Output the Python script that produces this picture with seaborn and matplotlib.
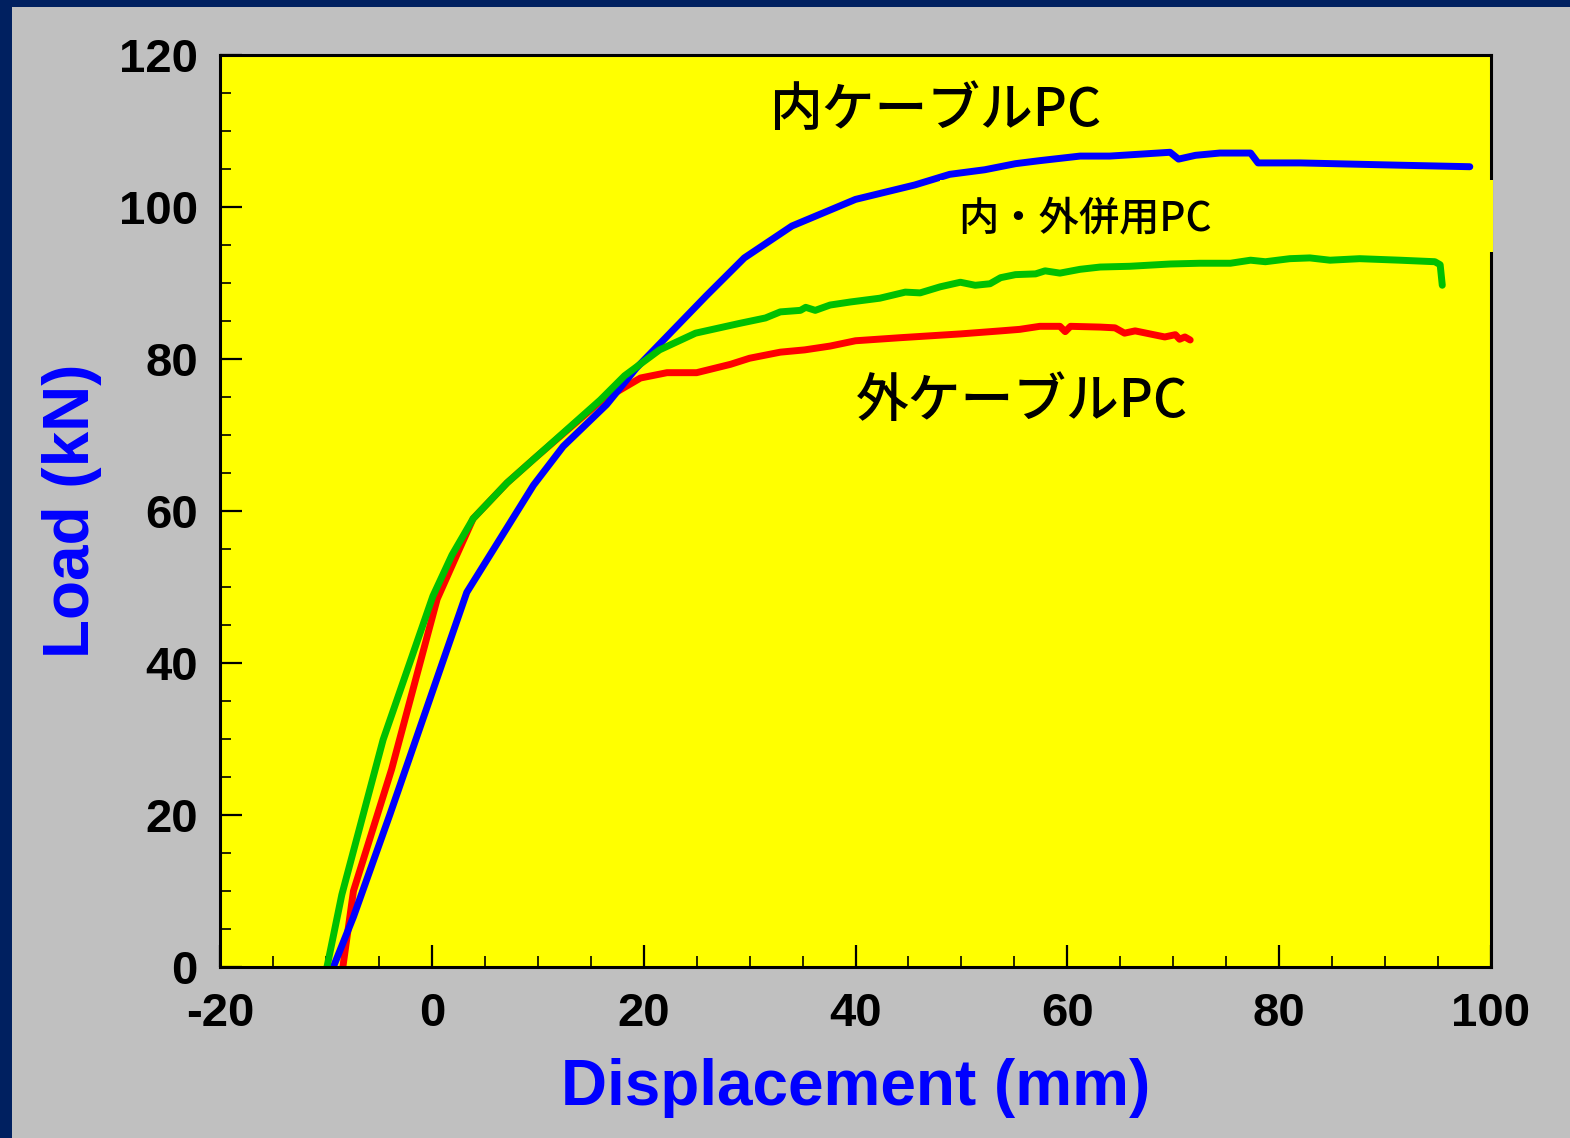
import matplotlib
matplotlib.use("Agg")
import matplotlib.pyplot as plt
import seaborn as sns
import pandas as pd
from matplotlib.patches import Rectangle
from matplotlib.ticker import MultipleLocator

# ---- data ----
inner_x = [-9.3, -7.4, -3.95, 3.3, 9.6, 12.4, 16.5, 19.3, 25.9, 29.5, 34.0, 40.0, 45.6, 48.9, 52.2,
           55.1, 57.4, 61.2, 64.0, 69.7, 70.5, 72.1, 74.4, 77.3, 78.0, 82.0, 91.4, 98.0]
inner_y = [0.0, 6.6, 20.1, 49.3, 63.4, 68.5, 74.0, 78.8, 88.3, 93.3, 97.5, 101.0, 102.9, 104.3, 104.9,
           105.7, 106.1, 106.7, 106.7, 107.2, 106.3, 106.8, 107.1, 107.1, 105.8, 105.8, 105.5, 105.3]

combo_x = [-9.9, -8.5, -4.6, 0.1, 1.9, 3.9, 7.1, 9.6, 15.9, 18.2, 21.5, 24.9, 29.1,
           31.5, 32.9, 34.8, 35.3, 36.2, 37.6, 39.5, 42.3, 44.7, 46.1, 48.0, 49.9, 51.3, 52.7,
           53.7, 55.1, 57.0, 57.9, 59.3, 61.2, 63.1, 65.9, 69.7, 72.5, 75.4, 77.3, 78.7, 81.0,
           82.9, 84.8, 87.6, 91.4, 94.7, 95.2, 95.4]
combo_y = [0.0, 9.5, 29.9, 48.8, 54.2, 59.0, 63.7, 66.8, 74.6, 77.8, 81.2, 83.4, 84.7,
           85.4, 86.2, 86.4, 86.8, 86.4, 87.1, 87.5, 88.0, 88.8, 88.7, 89.5, 90.1, 89.7, 89.9,
           90.7, 91.1, 91.2, 91.6, 91.3, 91.8, 92.1, 92.2, 92.5, 92.6, 92.6, 93.0, 92.8, 93.2,
           93.3, 93.0, 93.2, 93.0, 92.8, 92.4, 89.7]

outer_x = [-8.4, -7.4, -3.8, 0.5, 2.35, 3.9, 7.1, 9.6, 15.9, 19.7, 22.2, 25.0, 28.2, 30.0,
           32.9, 35.2, 37.6, 40.0, 44.2, 49.9, 53.7, 55.5, 57.4, 59.3, 59.8, 60.3, 63.1, 64.5,
           65.4, 66.4, 67.8, 69.2, 70.2, 70.6, 71.1, 71.6]
outer_y = [0.0, 10.0, 26.0, 48.4, 54.2, 59.0, 63.7, 66.8, 74.4, 77.5, 78.2, 78.2, 79.3, 80.1,
           80.9, 81.2, 81.7, 82.4, 82.8, 83.3, 83.7, 83.9, 84.3, 84.3, 83.6, 84.3, 84.2, 84.1,
           83.4, 83.7, 83.3, 82.9, 83.2, 82.6, 82.9, 82.5]

x_ticks = [-20, 0, 20, 40, 60, 80, 100]
y_ticks = [0, 20, 40, 60, 80, 100, 120]
label_inner = "内ケーブルPC"
label_outer = "外ケーブルPC"
label_combo = "内・外併用PC"

# drawing order: red, blue, green
df = pd.concat([
    pd.DataFrame({"x": outer_x, "y": outer_y, "s": label_outer}),
    pd.DataFrame({"x": inner_x, "y": inner_y, "s": label_inner}),
    pd.DataFrame({"x": combo_x, "y": combo_y, "s": label_combo}),
])

sns.set_style("ticks")
plt.rcParams['font.family'] = ['Liberation Sans', 'Noto Sans CJK JP', 'DejaVu Sans']
plt.rcParams['axes.unicode_minus'] = False
plt.rcParams['text.color'] = 'black'
plt.rcParams['xtick.color'] = 'black'
plt.rcParams['ytick.color'] = 'black'

fig = plt.figure(figsize=(15.7, 11.38), dpi=100)
fig.patch.set_facecolor("#C0C0C0")
# navy border strips (top and left)
fig.add_artist(Rectangle((0, 0), 12 / 1570, 1, transform=fig.transFigure,
                         facecolor="#002060", edgecolor="none", zorder=-5))
fig.add_artist(Rectangle((0, 1 - 7 / 1138), 1, 7 / 1138, transform=fig.transFigure,
                         facecolor="#002060", edgecolor="none", zorder=-5))

ax = fig.add_axes([220 / 1570, 1 - 967 / 1138, 1271 / 1570, 912 / 1138])
ax.set_facecolor("#FFFF00")

palette = {label_inner: "#0000FF", label_combo: "#00C000", label_outer: "#FF0000"}
sns.lineplot(data=df, x="x", y="y", hue="s", units="s", estimator=None, sort=False,
             hue_order=[label_outer, label_inner, label_combo],
             palette=palette, linewidth=5.0, ax=ax, legend=False, zorder=2)
for line in ax.lines:
    line.set_solid_capstyle("round")
    line.set_solid_joinstyle("round")

ax.set_xlim(-20, 100)
ax.set_ylim(0, 120)
ax.set_xticks(x_ticks)
ax.set_yticks(y_ticks)
ax.xaxis.set_minor_locator(MultipleLocator(5))
ax.yaxis.set_minor_locator(MultipleLocator(5))
ax.tick_params(which="major", direction="in", length=16, width=1.6, color="black",
               labelcolor="black", labelsize=34, pad=18)
ax.tick_params(which="minor", direction="in", length=8, width=1.2, color="black")
ax.tick_params(axis="y", which="major", pad=16)
for lab in ax.get_xticklabels() + ax.get_yticklabels():
    lab.set_fontweight("bold")
for sp in ax.spines.values():
    sp.set_linewidth(2.2)
    sp.set_color("black")
    sp.set_visible(True)

ax.set_xlabel("Displacement (mm)", fontsize=46, fontweight="bold", color="#0000FF", labelpad=16)
ax.set_ylabel("Load (kN)", fontsize=46, fontweight="bold", color="#0000FF", labelpad=12)

# box behind combined label (covers part of curve and right spine)
ax.add_patch(Rectangle((48.0, 94.1), 52.2, 9.4, facecolor="#FFFF00", edgecolor="none",
                       zorder=3, clip_on=False))

cjk = ['Noto Sans CJK JP', 'DejaVu Sans']
ax.text(47.5, 112.6, label_inner, fontsize=38, family=cjk, fontweight="medium",
        ha="center", va="center", zorder=4)
ax.text(55.7, 74.4, label_outer, fontsize=38, family=cjk, fontweight="medium",
        ha="center", va="center", zorder=4)
ax.text(61.7, 98.5, label_combo, fontsize=29, family=cjk, fontweight="medium",
        ha="center", va="center", zorder=4)

fig.savefig("out.png", dpi=100, facecolor=fig.get_facecolor())
